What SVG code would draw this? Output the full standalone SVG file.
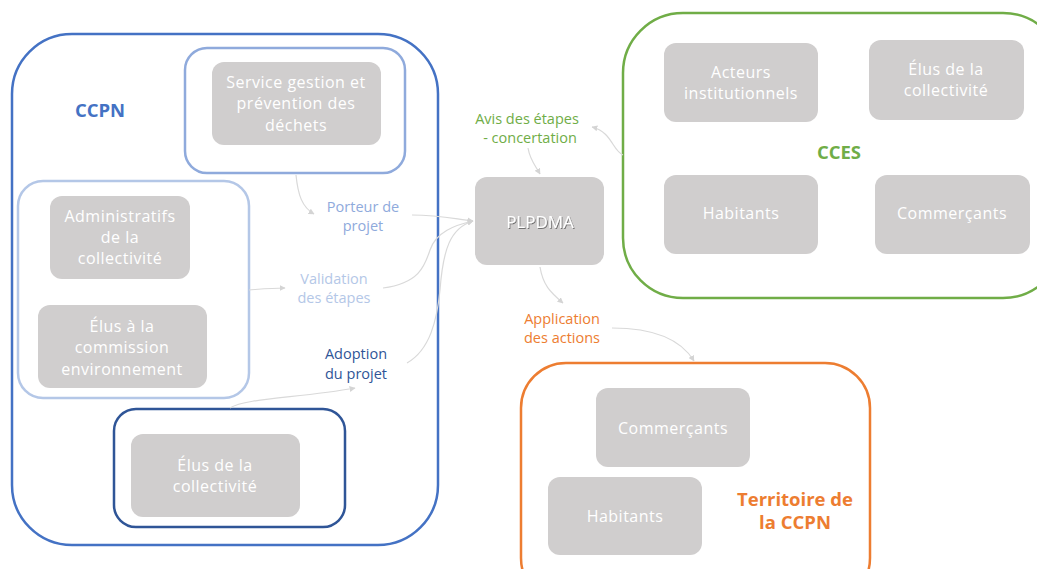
<svg xmlns="http://www.w3.org/2000/svg" width="1037" height="569" viewBox="0 0 1037 569">
<defs>
<marker id="arr" viewBox="0 0 10 10" refX="9" refY="5" markerWidth="5" markerHeight="5" orient="auto"><path d="M0,0 L10,5 L0,10 z" fill="#D4D4D4"/></marker>
<filter id="sh" x="-10%" y="-10%" width="130%" height="140%"><feDropShadow dx="1" dy="1" stdDeviation="0.6" flood-color="#000" flood-opacity="0.45"/></filter>
</defs>
<style>
.g{fill:#D0CECE}
.t{font-family:"Open Sans","DejaVu Sans",sans-serif;font-size:16px;letter-spacing:0.5px;fill:#FFFFFF;text-anchor:middle}
.l{font-family:"Open Sans","DejaVu Sans",sans-serif;font-size:14.5px;text-anchor:middle}
.b{font-family:"Open Sans","DejaVu Sans",sans-serif;font-size:18.5px;font-weight:bold;text-anchor:middle}
.c{fill:none;stroke:#D9D9D9;stroke-width:1.2;marker-end:url(#arr)}
</style>
<rect width="1037" height="569" fill="#FFFFFF"/>

<g id="ccpn">
<rect x="12" y="34" width="426" height="511" rx="60" fill="none" stroke="#4472C4" stroke-width="2.5"/>
<text class="b" x="100" y="117" fill="#4472C4">CCPN</text>
</g>
<g id="grp-service">
<rect x="185" y="48" width="220" height="125" rx="22" fill="none" stroke="#8FAADC" stroke-width="2.5"/>
</g>
<g id="service">
<rect class="g" x="212" y="62" width="169" height="83" rx="12"/>
<text class="t" x="296" y="88">Service gestion et</text>
<text class="t" x="296" y="109">prévention des</text>
<text class="t" x="296" y="131">déchets</text>
</g>
<g id="grp-admin">
<rect x="18" y="181" width="231" height="217" rx="25" fill="none" stroke="#B4C7E7" stroke-width="2.5"/>
</g>
<g id="admin">
<rect class="g" x="50" y="196" width="140" height="83" rx="12"/>
<text class="t" x="120" y="222">Administratifs</text>
<text class="t" x="120" y="243">de la</text>
<text class="t" x="120" y="264">collectivité</text>
</g>
<g id="elus-commission">
<rect class="g" x="38" y="305" width="169" height="83" rx="12"/>
<text class="t" x="122" y="332">Élus à la</text>
<text class="t" x="122" y="353">commission</text>
<text class="t" x="122" y="375">environnement</text>
</g>
<g id="grp-elus">
<rect x="114" y="409" width="231" height="118" rx="22" fill="none" stroke="#2F5597" stroke-width="2.5"/>
</g>
<g id="elus-collectivite">
<rect class="g" x="131" y="434" width="169" height="83" rx="12"/>
<text class="t" x="215" y="471">Élus de la</text>
<text class="t" x="215" y="492">collectivité</text>
</g>

<g id="plpdma">
<rect class="g" x="475" y="177" width="129" height="88" rx="12"/>
<text x="540" y="228" font-family="'Open Sans','DejaVu Sans',sans-serif" font-size="17" fill="#FFFFFF" text-anchor="middle" filter="url(#sh)">PLPDMA</text>
</g>

<g id="cces">
<rect x="623" y="13" width="440" height="285" rx="60" fill="none" stroke="#70AD47" stroke-width="2.5"/>
<text class="b" x="839" y="159" fill="#70AD47">CCES</text>
</g>
<g id="acteurs">
<rect class="g" x="664" y="43" width="154" height="79" rx="12"/>
<text class="t" x="741" y="78">Acteurs</text>
<text class="t" x="741" y="99">institutionnels</text>
</g>
<g id="cces-elus">
<rect class="g" x="869" y="40" width="155" height="80" rx="12"/>
<text class="t" x="946" y="75">Élus de la</text>
<text class="t" x="946" y="96">collectivité</text>
</g>
<g id="cces-habitants">
<rect class="g" x="664" y="175" width="154" height="79" rx="12"/>
<text class="t" x="741" y="219">Habitants</text>
</g>
<g id="cces-commercants">
<rect class="g" x="875" y="175" width="155" height="79" rx="12"/>
<text class="t" x="952" y="219">Commerçants</text>
</g>

<g id="territoire">
<rect x="521" y="363" width="349" height="240" rx="45" fill="none" stroke="#ED7D31" stroke-width="2.5"/>
<text class="b" x="795" y="506" fill="#ED7D31">Territoire de</text>
<text class="b" x="795" y="529" fill="#ED7D31">la CCPN</text>
</g>
<g id="ter-commercants">
<rect class="g" x="596" y="388" width="154" height="79" rx="12"/>
<text class="t" x="673" y="434">Commerçants</text>
</g>
<g id="ter-habitants">
<rect class="g" x="548" y="477" width="154" height="78" rx="12"/>
<text class="t" x="625" y="522">Habitants</text>
</g>

<g id="labels">
<text class="l" x="363" y="212" fill="#8FAADC">Porteur de</text>
<text class="l" x="363" y="231" fill="#8FAADC">projet</text>
<text class="l" x="334" y="284" fill="#B4C7E7">Validation</text>
<text class="l" x="334" y="303" fill="#B4C7E7">des étapes</text>
<text class="l" x="356" y="359" fill="#2F5597">Adoption</text>
<text class="l" x="356" y="379" fill="#2F5597">du projet</text>
<text class="l" x="527" y="124" fill="#70AD47">Avis des étapes</text>
<text class="l" x="530" y="143" fill="#70AD47">- concertation</text>
<text class="l" x="562" y="324" fill="#ED7D31">Application</text>
<text class="l" x="562" y="343" fill="#ED7D31">des actions</text>
</g>

<g id="connectors">
<path class="c" d="M296,175 C298,195 302,207 314,214"/>
<path class="c" d="M412,215 C440,215 455,219 473,221"/>
<path class="c" d="M383,288 C420,283 425,265 430,250 C436,232 455,225 473,221"/>
<path class="c" d="M407,363 C430,350 437,320 440,290 C443,250 450,228 473,221"/>
<path class="c" d="M249,290 C262,289 272,288 285,288"/>
<path class="c" d="M230,408 C245,398 300,398 355,388"/>
<path class="c" d="M528,148 C530,160 535,165 540,174"/>
<path class="c" d="M623,155 C612,150 612,132 592,127"/>
<path class="c" d="M540,267 C543,285 550,292 563,303"/>
<path class="c" d="M612,328 C650,328 680,338 694,361"/>
</g>
</svg>
